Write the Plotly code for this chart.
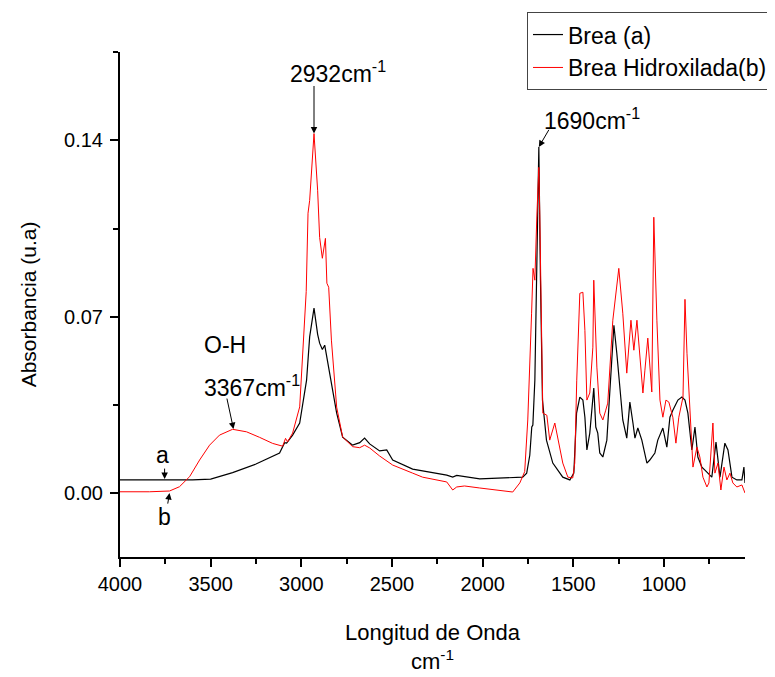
import plotly.graph_objects as go

# Brea (a): wavenumber (cm-1) and absorbance
brea_x = [4000, 3800, 3600, 3500, 3379, 3250, 3120, 3092, 3081, 3048, 3009, 2971, 2954, 2930,
          2910, 2899, 2884, 2871, 2855, 2844, 2805, 2772, 2717, 2678, 2651, 2623, 2568, 2529,
          2496, 2386, 2331, 2198, 2165, 2143, 2016, 1906, 1834, 1779, 1757, 1740, 1729, 1723,
          1712, 1701, 1690, 1681, 1670, 1648, 1613, 1558, 1519, 1497, 1482, 1464, 1447, 1436,
          1425, 1409, 1387, 1376, 1365, 1354, 1337, 1315, 1299, 1276, 1260, 1243, 1227, 1205,
          1188, 1171, 1160, 1144, 1122, 1094, 1078, 1050, 1034, 1006, 984, 967, 951, 923, 901,
          884, 868, 846, 829, 813, 791, 774, 758, 736, 713, 691, 664, 647, 625, 598, 570, 559, 553]
brea_y = [0.0052, 0.0052, 0.0052, 0.0055, 0.0081, 0.0115, 0.0159, 0.0200, 0.0198, 0.0230,
          0.0278, 0.0448, 0.0620, 0.0734, 0.0630, 0.0595, 0.0570, 0.0587, 0.0520, 0.0488,
          0.0317, 0.0222, 0.0190, 0.0200, 0.0218, 0.0195, 0.0167, 0.0171, 0.0131, 0.0095,
          0.0088, 0.0071, 0.0063, 0.0070, 0.0056, 0.0060, 0.0060, 0.0063, 0.0079, 0.0150,
          0.0262, 0.0270, 0.0448, 0.0976, 0.1374, 0.0845, 0.0369, 0.0210, 0.0119, 0.0063,
          0.0052, 0.0079, 0.0317, 0.0381, 0.0369, 0.0301, 0.0171, 0.0238, 0.0417, 0.0262,
          0.0238, 0.0159, 0.0143, 0.0210, 0.0381, 0.0666, 0.0555, 0.0420, 0.0290, 0.0218,
          0.0361, 0.0278, 0.0218, 0.0258, 0.0210, 0.0119, 0.0131, 0.0159, 0.0210, 0.0258,
          0.0182, 0.0301, 0.0329, 0.0369, 0.0381, 0.0369, 0.0317, 0.0171, 0.0262, 0.0143,
          0.0103, 0.0091, 0.0079, 0.0063, 0.0202, 0.0063, 0.0198, 0.0171, 0.0063, 0.0052,
          0.0052, 0.0103, 0.0040]

# Brea Hidroxilada (b)
hidrox_x = [4000, 3837, 3727, 3672, 3616, 3561, 3506, 3451, 3379, 3302, 3230, 3158, 3103, 3087,
            3076, 3048, 3009, 2993, 2982, 2973, 2963, 2954, 2930, 2910, 2899, 2884, 2867, 2859,
            2849, 2834, 2805, 2772, 2717, 2678, 2651, 2623, 2568, 2496, 2386, 2331, 2198, 2165,
            2143, 2100, 2016, 1977, 1834, 1795, 1768, 1751, 1740, 1730, 1722, 1712, 1701, 1690,
            1685, 1675, 1668, 1646, 1630, 1602, 1585, 1558, 1530, 1503, 1492, 1481, 1464, 1447,
            1436, 1425, 1409, 1392, 1387, 1370, 1354, 1337, 1321, 1310, 1282, 1249, 1227, 1205,
            1182, 1166, 1149, 1133, 1116, 1105, 1089, 1067, 1056, 1039, 1022, 1006, 989, 973,
            951, 934, 918, 895, 884, 873, 857, 840, 818, 802, 785, 763, 752, 730, 719, 702, 686,
            669, 653, 636, 620, 598, 570, 553]
hidrox_y = [0.0005, 0.0005, 0.0008, 0.0025, 0.0065, 0.0131, 0.0190, 0.0230, 0.0253, 0.0243,
            0.0221, 0.0197, 0.0186, 0.0217, 0.0203, 0.0238, 0.0342, 0.0540, 0.0650, 0.0800,
            0.1111, 0.1162, 0.1427, 0.1202, 0.1015, 0.0932, 0.1011, 0.0833, 0.0817, 0.0607,
            0.0341, 0.0222, 0.0184, 0.0180, 0.0190, 0.0179, 0.0147, 0.0111, 0.0079, 0.0063,
            0.0044, 0.0012, 0.0024, 0.0028, 0.0020, 0.0016, 0.0004, 0.0040, 0.0085, 0.0290,
            0.0480, 0.0714, 0.0892, 0.0845, 0.1100, 0.1293, 0.1111, 0.0579, 0.0317, 0.0309,
            0.0210, 0.0278, 0.0222, 0.0119, 0.0063, 0.0060, 0.0119, 0.0448, 0.0793, 0.0797,
            0.0646, 0.0369, 0.0397, 0.0579, 0.0845, 0.0500, 0.0317, 0.0290, 0.0329, 0.0357,
            0.0686, 0.0892, 0.0714, 0.0476, 0.0686, 0.0567, 0.0686, 0.0539, 0.0397, 0.0488,
            0.0615, 0.0401, 0.1095, 0.0686, 0.0369, 0.0301, 0.0369, 0.0361, 0.0301, 0.0198,
            0.0301, 0.0381, 0.0769, 0.0555, 0.0317, 0.0103, 0.0182, 0.0143, 0.0063, 0.0024,
            0.0040, 0.0278, 0.0079, 0.0119, 0.0012, 0.0103, 0.0052, 0.0079, 0.0040, 0.0024,
            0.0032, 0.0000]

x_tickvals = [4000, 3500, 3000, 2500, 2000, 1500, 1000]
y_tickvals = [0.0, 0.07, 0.14]
y_ticktext = ["0.00", "0.07", "0.14"]

FONT = "Liberation Sans, Arial, sans-serif"

fig = go.Figure()
fig.add_trace(go.Scatter(x=brea_x, y=brea_y, mode='lines', name='Brea (a)',
                         line=dict(color='black', width=1.2)))
fig.add_trace(go.Scatter(x=hidrox_x, y=hidrox_y, mode='lines', name='Brea Hidroxilada(b)',
                         line=dict(color='red', width=1)))

# (text, x, y) for labels, (head x, head y, tail x, tail y) for arrows
labels = [
    ('2932cm<sup>-1</sup>', 2800, 0.1672),
    ('1690cm<sup>-1</sup>', 1398, 0.1484),
    ('O-H', 3423, 0.0587),
    ('3367cm<sup>-1</sup>', 3274, 0.0424),
    ('a', 3765, 0.0151),
    ('b', 3754, -0.0095),
]
arrows = [
    (2930, 0.1427, 2930, 0.1622),
    (1690, 0.1374, 1630, 0.1448),
    (3374, 0.0254, 3412, 0.0381),
    (3754, 0.0056, 3754, 0.0103),
    (3727, 0.0000, 3738, -0.0048),
]

annotations = []
for text, x, y in labels:
    annotations.append(dict(x=x, y=y, xref='x', yref='y', text=text, showarrow=False,
                            font=dict(size=23, family=FONT, color='black')))
for hx, hy, tx, ty in arrows:
    annotations.append(dict(x=hx, y=hy, ax=tx, ay=ty, xref='x', yref='y', axref='x', ayref='y',
                            text='', showarrow=True, arrowhead=2, arrowsize=1.3,
                            arrowwidth=1, arrowcolor='black'))

# the page body adds an 8px offset, so the figure is 8px smaller on each side
fig.update_layout(
    width=767,
    height=669,
    margin=dict(l=112, r=30, t=44, b=120, autoexpand=False),
    paper_bgcolor='white',
    plot_bgcolor='white',
    font=dict(family=FONT, color='black'),
    annotations=annotations,
    legend=dict(x=1.0448, xanchor='right', y=1.079, yanchor='top', bgcolor='white',
                bordercolor='#444', borderwidth=1, font=dict(size=23), tracegroupgap=0),
    xaxis=dict(
        range=[4000, 553],
        automargin=False,
        tickvals=x_tickvals,
        ticks='outside', ticklen=8, tickwidth=2, tickcolor='black',
        showline=True, linewidth=2, linecolor='black',
        showgrid=False, zeroline=False,
        tickfont=dict(size=20),
        minor=dict(dtick=250, ticks='outside', ticklen=5, tickwidth=2, tickcolor='black'),
        title=dict(text='Longitud de Onda<br>cm<sup>-1</sup>', font=dict(size=22), standoff=31),
    ),
    yaxis=dict(
        range=[-0.0254, 0.1751],
        automargin=False,
        tickvals=y_tickvals, ticktext=y_ticktext,
        ticks='outside', ticklen=8, tickwidth=2, tickcolor='black',
        showline=True, linewidth=2, linecolor='black',
        showgrid=False, zeroline=False,
        tickfont=dict(size=20),
        ticklabelstandoff=3,
        minor=dict(tickvals=[0.035, 0.105, 0.175], ticks='outside', ticklen=5, tickwidth=2,
                   tickcolor='black'),
        title=dict(text='Absorbancia (u.a)', font=dict(size=21), standoff=22),
    ),
)

fig.write_html("out.html")
